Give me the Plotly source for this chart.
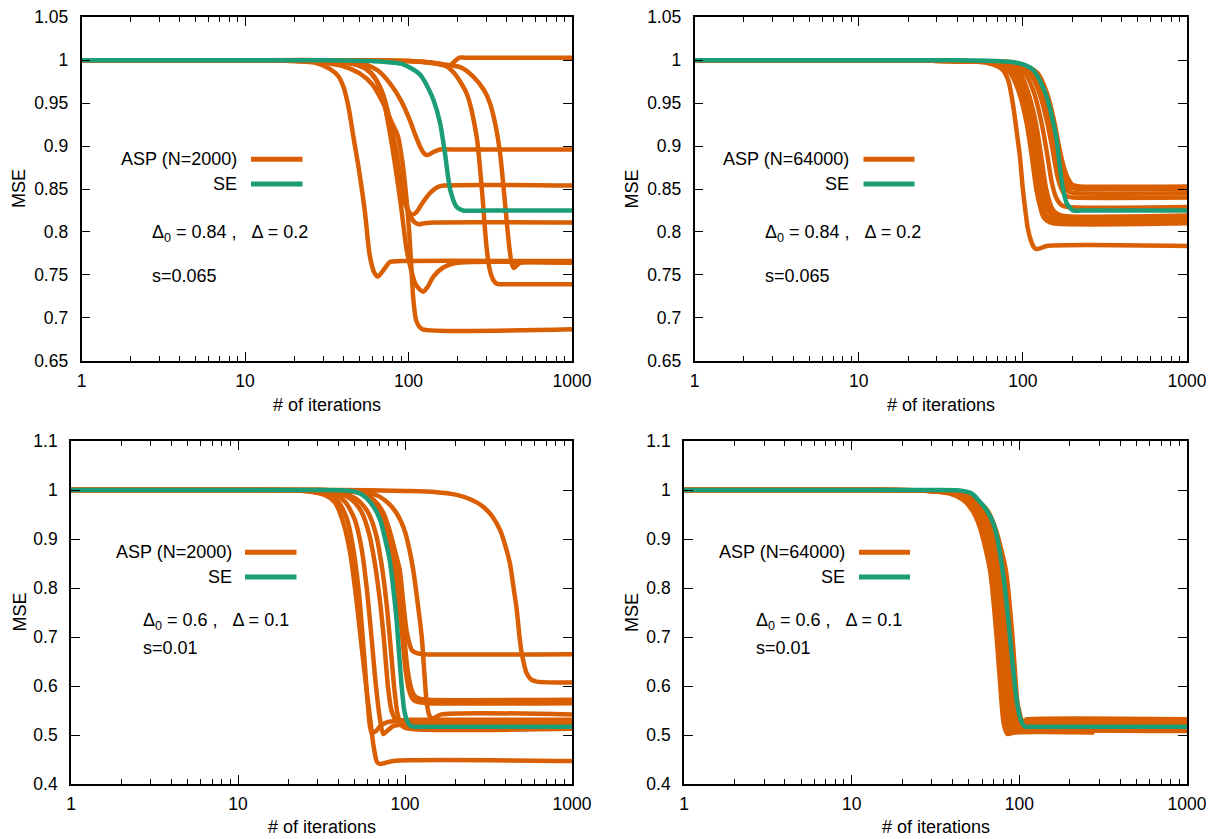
import plotly.graph_objects as go

# ---------------- data ----------------
X_TICKS = [1, 10, 100, 1000]
X_TICK_TEXT = ["1", "10", "100", "1000"]
X_MINOR = [2, 3, 4, 5, 6, 7, 8, 9, 20, 30, 40, 50, 60, 70, 80, 90,
           200, 300, 400, 500, 600, 700, 800, 900]
Y_TICKS_TOP = [0.65, 0.7, 0.75, 0.8, 0.85, 0.9, 0.95, 1.0, 1.05]
Y_TICK_TEXT_TOP = ["0.65", "0.7", "0.75", "0.8", "0.85", "0.9", "0.95", "1", "1.05"]
Y_TICKS_BOT = [0.4, 0.5, 0.6, 0.7, 0.8, 0.9, 1.0, 1.1]
Y_TICK_TEXT_BOT = ["0.4", "0.5", "0.6", "0.7", "0.8", "0.9", "1", "1.1"]

# --- top-left: ASP N=2000, Delta0=0.84, Delta=0.2, s=0.065
TL_SE_X = [1, 10, 30, 60, 90, 105, 118, 130, 142, 156, 167, 180, 197, 216, 300, 1000]
TL_SE_Y = [1, 1, 1, 0.999, 0.996, 0.99, 0.983, 0.97, 0.954, 0.927, 0.892, 0.849, 0.829, 0.825, 0.825, 0.825]
TL_A1_X = [1, 10, 20, 27, 33, 37, 40, 43, 46, 50, 54, 58, 62, 65, 70, 77, 90, 1000]
TL_A1_Y = [1, 1, 0.999, 0.997, 0.99, 0.982, 0.969, 0.945, 0.911, 0.87, 0.825, 0.772, 0.752, 0.748, 0.755, 0.765, 0.766, 0.766]
TL_A2_X = [1, 10, 20, 30, 40, 50, 60, 70, 78, 86, 92, 97, 101, 104, 107, 111, 116, 122, 1000]
TL_A2_Y = [1, 1, 0.999, 0.997, 0.993, 0.985, 0.972, 0.95, 0.93, 0.912, 0.88, 0.84, 0.8, 0.76, 0.722, 0.698, 0.69, 0.6866, 0.6866]
TL_A3_X = [1, 10, 50, 100, 140, 163, 190, 227, 261, 280, 301, 315, 330, 345, 363, 400, 1000]
TL_A3_Y = [1, 1, 1, 0.999, 0.997, 0.995, 0.985, 0.961, 0.911, 0.853, 0.78, 0.755, 0.744, 0.74, 0.739, 0.739, 0.739]
TL_A4_X = [1, 10, 50, 100, 150, 207, 249, 290, 315, 340, 363, 380, 398, 415, 428, 442, 460, 481, 1000]
TL_A4_Y = [1, 1, 1, 0.999, 0.996, 0.992, 0.981, 0.965, 0.95, 0.925, 0.892, 0.855, 0.814, 0.78, 0.763, 0.758, 0.761, 0.764, 0.764]
TL_A5_X = [1, 10, 50, 100, 140, 165, 175, 185, 195, 205, 220, 1000]
TL_A5_Y = [1, 1, 1, 0.999, 0.997, 0.994, 0.993, 0.996, 1.0, 1.003, 1.003, 1.003]
TL_A6_X = [1, 10, 30, 45, 55, 65, 77, 90, 102, 110, 118, 124, 129, 135, 142, 156, 200, 1000]
TL_A6_Y = [1, 1, 1, 0.998, 0.995, 0.988, 0.973, 0.953, 0.93, 0.913, 0.899, 0.892, 0.8896, 0.8905, 0.893, 0.896, 0.896, 0.896]
TL_A7_X = [1, 10, 30, 45, 55, 63, 70, 77, 84, 90, 95, 100, 105, 112, 120, 135, 150, 165, 1000]
TL_A7_Y = [1, 1, 0.999, 0.996, 0.99, 0.978, 0.955, 0.92, 0.88, 0.85, 0.833, 0.824, 0.82, 0.823, 0.832, 0.845, 0.852, 0.854, 0.854]
TL_A8_X = [1, 10, 30, 45, 55, 63, 70, 77, 84, 90, 96, 102, 108, 115, 125, 145, 1000]
TL_A8_Y = [1, 1, 0.999, 0.996, 0.99, 0.978, 0.96, 0.93, 0.895, 0.86, 0.835, 0.82, 0.812, 0.809, 0.81, 0.811, 0.811]
TL_A9_X = [1, 10, 30, 45, 55, 63, 70, 77, 84, 90, 97.5, 104, 110, 117, 123, 130, 142, 163, 197, 1000]
TL_A9_Y = [1, 1, 0.999, 0.996, 0.99, 0.978, 0.955, 0.915, 0.87, 0.83, 0.779, 0.755, 0.74, 0.733, 0.7304, 0.735, 0.748, 0.7585, 0.764, 0.764]

# --- top-right: ASP N=64000, Delta0=0.84, Delta=0.2, s=0.065
TR_SE_X = [1, 10, 40, 70, 91.7, 104, 115.7, 128, 139.7, 150, 160.7, 166, 172, 178, 185, 194, 203, 230, 1000]
TR_SE_Y = [1, 1, 1, 0.999, 0.997, 0.994, 0.9886, 0.975, 0.9575, 0.935, 0.907, 0.885, 0.8605, 0.845, 0.8333, 0.828, 0.8248, 0.825, 0.825]
TR_A1_X = [1, 10, 40, 60, 70, 76, 82, 87.5, 92, 96, 100, 103, 107, 112, 117, 121, 128, 140, 1000]
TR_A1_Y = [1, 1, 0.999, 0.997, 0.993, 0.988, 0.975, 0.946, 0.915, 0.8876, 0.85, 0.829, 0.805, 0.79, 0.782, 0.78, 0.781, 0.7836, 0.7836]
TR_A2_X = [1, 10, 40, 60, 75, 84, 95, 105.5, 113, 121, 128, 133, 140, 153, 1000]
TR_A2_Y = [1, 1, 0.999, 0.998, 0.993, 0.985, 0.962, 0.9265, 0.89, 0.849, 0.828, 0.818, 0.813, 0.81, 0.81]
TR_A3_X = [1, 10, 40, 62, 78, 88, 99, 110, 118, 126, 133, 139, 146, 160, 1000]
TR_A3_Y = [1, 1, 0.999, 0.998, 0.993, 0.985, 0.962, 0.927, 0.89, 0.85, 0.83, 0.82, 0.816, 0.813, 0.813]
TR_A4_X = [1, 10, 40, 64, 81, 92, 104, 115, 124, 132, 140, 146, 153, 167, 1000]
TR_A4_Y = [1, 1, 0.999, 0.998, 0.993, 0.985, 0.962, 0.927, 0.89, 0.85, 0.832, 0.823, 0.819, 0.816, 0.816]
TR_A5_X = [1, 10, 40, 66, 84, 96, 108, 120, 129, 138, 146, 152, 160, 174, 1000]
TR_A5_Y = [1, 1, 0.999, 0.998, 0.993, 0.985, 0.962, 0.927, 0.89, 0.852, 0.834, 0.826, 0.822, 0.819, 0.819]
TR_A6_X = [1, 10, 40, 70, 90, 103, 117, 130, 140, 150, 158, 165, 173, 188, 1000]
TR_A6_Y = [1, 1, 0.999, 0.998, 0.993, 0.985, 0.962, 0.927, 0.893, 0.858, 0.842, 0.835, 0.831, 0.829, 0.829]
TR_A7_X = [1, 10, 40, 74, 96, 110, 126, 141, 152, 162, 171, 179, 189, 204, 1000]
TR_A7_Y = [1, 1, 0.999, 0.998, 0.993, 0.985, 0.962, 0.927, 0.895, 0.866, 0.851, 0.844, 0.841, 0.84, 0.84]
TR_A8_X = [1, 10, 40, 77, 100, 115, 131, 146, 158, 168, 177, 185, 195, 210, 1000]
TR_A8_Y = [1, 1, 0.999, 0.998, 0.993, 0.985, 0.962, 0.927, 0.895, 0.868, 0.855, 0.849, 0.846, 0.845, 0.845]
TR_A9_X = [1, 10, 40, 80, 103, 119, 136, 151, 163, 174, 183, 191, 201, 216, 1000]
TR_A9_Y = [1, 1, 0.999, 0.998, 0.993, 0.985, 0.962, 0.927, 0.895, 0.87, 0.858, 0.853, 0.851, 0.85, 0.85]
TR_A10_X = [1, 10, 40, 82, 106, 123, 140, 156, 168, 180, 190, 198, 208, 223, 1000]
TR_A10_Y = [1, 1, 0.999, 0.998, 0.993, 0.985, 0.962, 0.927, 0.895, 0.872, 0.861, 0.856, 0.854, 0.853, 0.853]

# --- bottom-left: ASP N=2000, Delta0=0.6, Delta=0.1, s=0.01
BL_SE_X = [1, 10, 30, 45, 52, 59, 65, 71, 76, 81, 85, 89, 92, 95.5, 99, 102.4, 107, 112, 130, 1000]
BL_SE_Y = [1, 1, 1, 0.999, 0.995, 0.983, 0.965, 0.939, 0.9, 0.857, 0.8, 0.735, 0.67, 0.599, 0.55, 0.531, 0.52, 0.517, 0.517, 0.517]
BL_A1_X = [1, 10, 30, 45, 55, 62, 68, 75, 82, 88, 93, 97, 102, 106, 110, 118, 129, 1000]
BL_A1_Y = [1, 1, 1, 0.998, 0.993, 0.985, 0.973, 0.95, 0.91, 0.87, 0.837, 0.78, 0.714, 0.688, 0.673, 0.667, 0.665, 0.665]
BL_A2_X = [1, 10, 40, 100, 150, 204, 250, 294, 335, 371, 400, 425, 447, 467, 485, 500, 520, 535, 570, 615, 1000]
BL_A2_Y = [1, 1, 1, 0.998, 0.996, 0.99, 0.98, 0.966, 0.945, 0.918, 0.885, 0.85, 0.8, 0.755, 0.7, 0.667, 0.64, 0.626, 0.613, 0.609, 0.607]
BL_A3_X = [1, 10, 30, 45, 55, 63, 70, 77, 84, 90, 95, 99, 103, 108, 114, 122, 135, 1000]
BL_A3_Y = [1, 1, 1, 0.998, 0.993, 0.983, 0.965, 0.935, 0.89, 0.83, 0.76, 0.7, 0.64, 0.6, 0.58, 0.574, 0.572, 0.572]
BL_A4_X = [1, 10, 30, 45, 55, 62, 69, 76, 82, 88, 93, 97, 101, 106, 112, 120, 135, 1000]
BL_A4_Y = [1, 1, 1, 0.998, 0.993, 0.982, 0.962, 0.93, 0.885, 0.82, 0.75, 0.69, 0.63, 0.59, 0.572, 0.567, 0.565, 0.565]
BL_A5_X = [1, 10, 30, 50, 60, 70, 80, 90, 100, 106, 112, 118, 126, 131, 135, 140, 145, 152, 165, 1000]
BL_A5_Y = [1, 1, 1, 0.998, 0.995, 0.987, 0.972, 0.95, 0.915, 0.88, 0.837, 0.78, 0.7, 0.62, 0.565, 0.54, 0.534, 0.536, 0.542, 0.542]
BL_A6_X = [1, 10, 25, 33, 38, 43, 47, 51, 55, 59, 62, 65, 68, 71, 76, 85, 1000]
BL_A6_Y = [1, 1, 0.998, 0.99, 0.975, 0.93, 0.87, 0.78, 0.68, 0.59, 0.53, 0.475, 0.445, 0.441, 0.443, 0.447, 0.447]
BL_A7_X = [1, 10, 25, 35, 40, 45, 49, 53, 57, 60, 63, 67, 72, 80, 1000]
BL_A7_Y = [1, 1, 0.998, 0.99, 0.975, 0.94, 0.88, 0.79, 0.66, 0.56, 0.505, 0.508, 0.52, 0.527, 0.527]
BL_A8_X = [1, 10, 25, 38, 44, 50, 55, 59, 63, 67, 71, 74, 78, 85, 100, 1000]
BL_A8_Y = [1, 1, 0.999, 0.99, 0.975, 0.94, 0.88, 0.8, 0.7, 0.6, 0.53, 0.502, 0.508, 0.518, 0.522, 0.522]
BL_A9_X = [1, 10, 30, 40, 48, 55, 61, 66, 71, 75, 79, 83, 88, 95, 110, 1000]
BL_A9_Y = [1, 1, 0.999, 0.993, 0.98, 0.955, 0.91, 0.85, 0.77, 0.69, 0.6, 0.55, 0.532, 0.53, 0.531, 0.531]
BL_A10_X = [1, 10, 30, 42, 52, 60, 67, 73, 78, 82, 86, 90, 95, 105, 1000]
BL_A10_Y = [1, 1, 0.999, 0.993, 0.98, 0.955, 0.91, 0.84, 0.76, 0.68, 0.6, 0.545, 0.52, 0.513, 0.513]

# --- bottom-right: ASP N=64000, Delta0=0.6, Delta=0.1, s=0.01
BR_SE_X = [1, 10, 30, 44, 52, 58.2, 64, 69.9, 74, 78.4, 82, 85.9, 90, 94.2, 97.5, 100.8, 104, 108, 120, 1000]
BR_SE_Y = [1, 1, 1, 0.999, 0.993, 0.976, 0.958, 0.932, 0.9, 0.85, 0.8, 0.735, 0.665, 0.599, 0.56, 0.537, 0.524, 0.517, 0.517, 0.517]
BR_A1_X = [1, 10, 25, 38, 46, 52, 58, 66.8, 73.2, 78.4, 81, 85, 94, 280]
BR_A1_Y = [1, 1, 0.999, 0.993, 0.98, 0.96, 0.925, 0.837, 0.7, 0.565, 0.52, 0.502, 0.505, 0.505]
BR_A2_X = [1, 10, 26, 39, 47, 53, 59.5, 68.5, 75, 80.4, 83, 87, 96, 1000]
BR_A2_Y = [1, 1, 0.999, 0.993, 0.98, 0.96, 0.925, 0.837, 0.7, 0.565, 0.525, 0.505, 0.508, 0.508]
BR_A3_X = [1, 10, 26, 40, 48, 54.5, 61, 70, 77, 82.5, 85, 89, 98, 1000]
BR_A3_Y = [1, 1, 0.999, 0.993, 0.98, 0.96, 0.925, 0.837, 0.7, 0.565, 0.53, 0.508, 0.511, 0.511]
BR_A4_X = [1, 10, 27, 41, 49, 56, 62.5, 72, 79, 84.5, 87, 91, 100, 1000]
BR_A4_Y = [1, 1, 0.999, 0.993, 0.98, 0.96, 0.925, 0.837, 0.7, 0.565, 0.532, 0.511, 0.514, 0.514]
BR_A5_X = [1, 10, 27, 42, 50, 57, 64, 74, 81, 86.5, 89, 93, 102, 1000]
BR_A5_Y = [1, 1, 0.999, 0.993, 0.98, 0.96, 0.925, 0.837, 0.7, 0.565, 0.535, 0.514, 0.517, 0.517]
BR_A6_X = [1, 10, 28, 43, 51, 58.5, 65.5, 75.5, 83, 88.5, 91, 95, 104, 1000]
BR_A6_Y = [1, 1, 0.999, 0.993, 0.98, 0.96, 0.925, 0.837, 0.7, 0.565, 0.537, 0.517, 0.52, 0.52]
BR_A7_X = [1, 10, 28, 44, 52, 60, 67, 77.5, 85, 91, 93.5, 97.5, 106, 1000]
BR_A7_Y = [1, 1, 0.999, 0.993, 0.98, 0.96, 0.925, 0.837, 0.7, 0.565, 0.54, 0.52, 0.523, 0.523]
BR_A8_X = [1, 10, 29, 45, 53, 61, 68.5, 79, 87, 93, 95.5, 99.5, 108, 1000]
BR_A8_Y = [1, 1, 0.999, 0.993, 0.98, 0.96, 0.925, 0.837, 0.7, 0.565, 0.542, 0.523, 0.526, 0.526]
BR_A9_X = [1, 10, 29, 46, 54, 62.5, 70, 81, 89, 95, 97.5, 101.5, 110, 1000]
BR_A9_Y = [1, 1, 0.999, 0.993, 0.98, 0.96, 0.925, 0.837, 0.7, 0.565, 0.545, 0.526, 0.529, 0.529]
BR_A10_X = [1, 10, 30, 47, 55, 64, 71.5, 83, 91, 97.5, 100, 104, 112, 1000]
BR_A10_Y = [1, 1, 0.999, 0.993, 0.98, 0.96, 0.925, 0.837, 0.7, 0.565, 0.548, 0.529, 0.532, 0.532]

LEGEND_ASP = ["ASP (N=2000)", "ASP (N=64000)", "ASP (N=2000)", "ASP (N=64000)"]
LEGEND_SE = "SE"
PARAM_TEXT = ["Δ<sub>0</sub> = 0.84 ,   Δ = 0.2", "Δ<sub>0</sub> = 0.84 ,   Δ = 0.2",
              "Δ<sub>0</sub> = 0.6 ,   Δ = 0.1", "Δ<sub>0</sub> = 0.6 ,   Δ = 0.1"]
S_TEXT = ["s=0.065", "s=0.065", "s=0.01", "s=0.01"]

# ---------------- styling / layout ----------------
ORANGE = "#D95F02"
GREEN = "#1B9E77"
FONT = "Liberation Sans"
TXT = 18      # text size
TICK = 17.5   # tick label size
OFF = 8       # page body margin of the browser
W, H = 1206, 831

# panel pixel boxes in page coordinates: (left, right, top, bottom)
PANELS = [
    (81.5, 572, 17.3, 360.7),
    (694.5, 1187, 17.3, 360.7),
    (71, 572, 441, 784),
    (684, 1187, 441, 784),
]

ASP_SERIES = [
    [(TL_A1_X, TL_A1_Y), (TL_A2_X, TL_A2_Y), (TL_A3_X, TL_A3_Y), (TL_A4_X, TL_A4_Y), (TL_A5_X, TL_A5_Y),
     (TL_A6_X, TL_A6_Y), (TL_A7_X, TL_A7_Y), (TL_A8_X, TL_A8_Y), (TL_A9_X, TL_A9_Y)],
    [(TR_A1_X, TR_A1_Y), (TR_A2_X, TR_A2_Y), (TR_A3_X, TR_A3_Y), (TR_A4_X, TR_A4_Y), (TR_A5_X, TR_A5_Y),
     (TR_A6_X, TR_A6_Y), (TR_A7_X, TR_A7_Y), (TR_A8_X, TR_A8_Y), (TR_A9_X, TR_A9_Y), (TR_A10_X, TR_A10_Y)],
    [(BL_A1_X, BL_A1_Y), (BL_A2_X, BL_A2_Y), (BL_A3_X, BL_A3_Y), (BL_A4_X, BL_A4_Y), (BL_A5_X, BL_A5_Y),
     (BL_A6_X, BL_A6_Y), (BL_A7_X, BL_A7_Y), (BL_A8_X, BL_A8_Y), (BL_A9_X, BL_A9_Y), (BL_A10_X, BL_A10_Y)],
    [(BR_A1_X, BR_A1_Y), (BR_A2_X, BR_A2_Y), (BR_A3_X, BR_A3_Y), (BR_A4_X, BR_A4_Y), (BR_A5_X, BR_A5_Y),
     (BR_A6_X, BR_A6_Y), (BR_A7_X, BR_A7_Y), (BR_A8_X, BR_A8_Y), (BR_A9_X, BR_A9_Y), (BR_A10_X, BR_A10_Y)],
]
SE_SERIES = [(TL_SE_X, TL_SE_Y), (TR_SE_X, TR_SE_Y), (BL_SE_X, BL_SE_Y), (BR_SE_X, BR_SE_Y)]

# legend / text positions in page pixels (per panel)
LEG_TEXT_RIGHT = [239, 851, 233.5, 847]
LEG_LINE = [(251, 302.5), (863.5, 914.5), (245, 296.5), (859, 910)]
LEG_Y = [(159.3, 184), (159.3, 184), (552.3, 577), (552.3, 577)]
PARAM_POS = [(150, 233.3, 275.7), (762.5, 233.3, 275.7), (140.5, 621.3, 647.7), (753.5, 621.3, 647.7)]
YTITLE_X = [19, 631.5, 19, 631.5]
XTITLE_Y = [405, 405, 827, 827]

fig = go.Figure()
layout = dict(
    width=W, height=H, margin=dict(l=0, r=0, t=0, b=0, autoexpand=False),
    paper_bgcolor="white", plot_bgcolor="white", showlegend=False,
    font=dict(family=FONT, size=TXT, color="black"),
)
annotations = []
shapes = []


def px(x):
    return (x - OFF) / W


def py(y):
    return 1 - (y - OFF) / H


for i, (l, r, t, b) in enumerate(PANELS):
    n = i + 1
    xa = "x" if n == 1 else f"x{n}"
    ya = "y" if n == 1 else f"y{n}"
    top = i < 2
    xkey = "xaxis" if n == 1 else f"xaxis{n}"
    ykey = "yaxis" if n == 1 else f"yaxis{n}"
    layout[xkey] = dict(
        domain=[px(l), px(r)], anchor=ya, type="log", range=[0, 3], automargin=False,
        tickmode="array", tickvals=X_TICKS, ticktext=X_TICK_TEXT,
        ticks="inside", ticklen=9, tickwidth=1.2, tickcolor="black",
        minor=dict(tickmode="array", tickvals=X_MINOR, ticks="inside", ticklen=5,
                   tickwidth=1, tickcolor="black", showgrid=False),
        showline=True, linecolor="black", linewidth=1.6, mirror="allticks",
        showgrid=False, zeroline=False, ticklabelstandoff=3, ticklabeloverflow="allow",
        tickfont=dict(family=FONT, size=TICK, color="black"),
    )
    layout[ykey] = dict(
        domain=[py(b), py(t)], anchor=xa, automargin=False,
        range=[0.65, 1.05] if top else [0.4, 1.1],
        tickmode="array",
        tickvals=Y_TICKS_TOP if top else Y_TICKS_BOT,
        ticktext=Y_TICK_TEXT_TOP if top else Y_TICK_TEXT_BOT,
        ticks="inside", ticklen=9, tickwidth=1.2, tickcolor="black",
        showline=True, linecolor="black", linewidth=1.6, mirror="allticks",
        showgrid=False, zeroline=False, ticklabelstandoff=8, ticklabeloverflow="allow",
        tickfont=dict(family=FONT, size=TICK, color="black"),
    )
    for sx, sy in ASP_SERIES[i]:
        fig.add_trace(go.Scatter(x=sx, y=sy, mode="lines", xaxis=xa, yaxis=ya,
                                 line=dict(color=ORANGE, width=4.5, shape="spline", smoothing=0.7),
                                 hoverinfo="skip"))
    sx, sy = SE_SERIES[i]
    fig.add_trace(go.Scatter(x=sx, y=sy, mode="lines", xaxis=xa, yaxis=ya,
                             line=dict(color=GREEN, width=4.5, shape="spline", smoothing=0.7),
                             hoverinfo="skip"))

    # legend (gnuplot style: text then sample)
    y1, y2 = LEG_Y[i]
    annotations.append(dict(text=LEGEND_ASP[i], x=px(LEG_TEXT_RIGHT[i]), y=py(y1), xref="paper", yref="paper",
                            xanchor="right", yanchor="middle", showarrow=False,
                            font=dict(family=FONT, size=TXT, color="black")))
    annotations.append(dict(text=LEGEND_SE, x=px(LEG_TEXT_RIGHT[i]), y=py(y2), xref="paper", yref="paper",
                            xanchor="right", yanchor="middle", showarrow=False,
                            font=dict(family=FONT, size=TXT, color="black")))
    lx0, lx1 = LEG_LINE[i]
    shapes.append(dict(type="line", xref="paper", yref="paper", x0=px(lx0), x1=px(lx1), y0=py(y1), y1=py(y1),
                       line=dict(color=ORANGE, width=5)))
    shapes.append(dict(type="line", xref="paper", yref="paper", x0=px(lx0), x1=px(lx1), y0=py(y2), y1=py(y2),
                       line=dict(color=GREEN, width=5)))
    ptx, pty1, pty2 = PARAM_POS[i]
    annotations.append(dict(text=PARAM_TEXT[i].replace("   ", "\u00a0\u00a0\u00a0"), x=px(ptx), y=py(pty1),
                            xref="paper", yref="paper", xanchor="left", yanchor="middle", showarrow=False,
                            font=dict(family=FONT, size=TXT, color="black")))
    annotations.append(dict(text=S_TEXT[i], x=px(ptx), y=py(pty2), xref="paper", yref="paper",
                            xanchor="left", yanchor="middle", showarrow=False,
                            font=dict(family=FONT, size=TXT, color="black")))
    # axis titles
    annotations.append(dict(text="MSE", x=px(YTITLE_X[i]), y=py((t + b) / 2), xref="paper", yref="paper",
                            xanchor="center", yanchor="middle", textangle=-90, showarrow=False,
                            font=dict(family=FONT, size=TXT, color="black")))
    annotations.append(dict(text="# of iterations", x=px((l + r) / 2), y=py(XTITLE_Y[i]), xref="paper",
                            yref="paper", xanchor="center", yanchor="middle", showarrow=False,
                            font=dict(family=FONT, size=TXT, color="black")))

layout["annotations"] = annotations
layout["shapes"] = shapes
fig.update_layout(**layout)
fig.write_html("out.html")
